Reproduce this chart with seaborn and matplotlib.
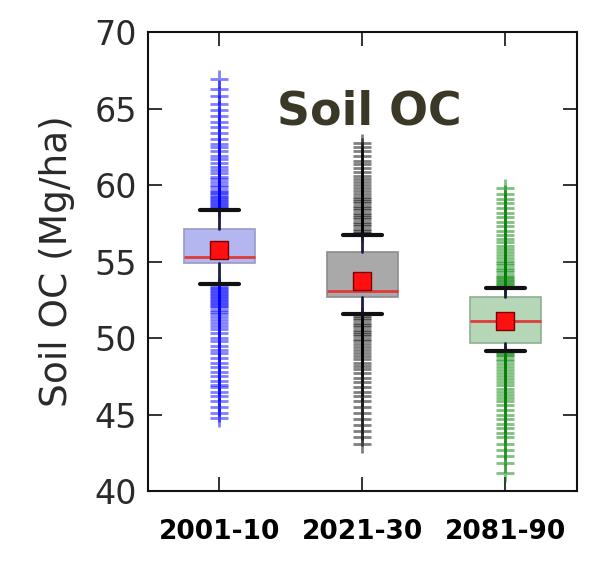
import numpy as np
import pandas as pd
import seaborn as sns
import matplotlib
matplotlib.use("Agg")
import matplotlib.pyplot as plt

# Summary statistics of soil organic carbon per period (Mg/ha)
periods = ["2001-10", "2021-30", "2081-90"]
q1 = [54.88, 52.66, 49.69]
median = [55.31, 53.09, 51.13]
q3 = [57.12, 55.64, 52.70]
whisker_low = [53.51, 51.57, 49.17]
whisker_high = [58.37, 56.73, 53.25]
mean = [55.75, 53.73, 51.12]

# Outlying values beyond the whiskers
fliers_2001 = [58.45, 58.55, 58.65, 58.75, 58.85, 58.95, 59.05, 59.15, 59.25, 59.35,
               59.45, 59.55, 59.7, 59.85, 60.0, 60.2, 60.4, 60.55, 60.8, 61.0, 61.2,
               61.45, 61.7, 61.9, 62.2, 62.5, 62.7, 63.0, 63.4, 63.8, 64.1, 64.5,
               64.9, 65.3, 65.8, 66.3, 66.9,
               53.4, 53.3, 53.2, 53.1, 53.0, 52.9, 52.8, 52.7, 52.6, 52.5, 52.4,
               52.3, 52.2, 52.1, 52.0, 51.85, 51.7, 51.55, 51.4, 51.2, 51.0, 50.8,
               50.6, 50.3, 50.0, 49.8, 49.5, 49.2, 49.0, 48.7, 48.4, 48.1, 47.8,
               47.5, 47.2, 46.9, 46.8, 46.5, 46.2, 45.9, 45.5, 45.1, 44.8]
fliers_2021 = [56.85, 57.0, 57.15, 57.3, 57.45, 57.6, 57.75, 57.9, 58.05, 58.2, 58.35,
               58.5, 58.65, 58.8, 58.95, 59.1, 59.25, 59.4, 59.6, 59.8, 60.0, 60.2,
               60.4, 60.6, 60.85, 61.1, 61.35, 61.6, 61.9, 62.2, 62.5, 62.75,
               51.45, 51.3, 51.15, 51.0, 50.85, 50.7, 50.55, 50.4, 50.25, 50.1,
               49.95, 49.8, 49.6, 49.4, 49.2, 49.0, 48.8, 48.6, 48.4, 48.2, 48.0,
               47.7, 47.4, 47.1, 46.8, 46.5, 46.2, 45.9, 45.5, 45.1, 44.7, 44.3,
               43.9, 43.5, 43.1]
fliers_2081 = [53.3, 53.4, 53.5, 53.6, 53.7, 53.8, 53.9, 54.0, 54.15, 54.3, 54.45,
               54.6, 54.75, 54.9, 55.05, 55.2, 55.4, 55.6, 55.8, 56.0, 56.25, 56.5,
               56.75, 57.0, 57.3, 57.6, 57.9, 58.2, 58.5, 58.8, 59.1, 59.4, 59.8,
               49.1, 49.0, 48.9, 48.8, 48.65, 48.5, 48.3, 48.1, 47.9, 47.7, 47.5,
               47.3, 47.1, 46.9, 46.7, 46.5, 46.3, 46.1, 45.9, 45.6, 45.3, 45.0,
               44.7, 44.4, 44.1, 43.8, 43.5, 43.1, 42.7, 42.3, 41.8, 41.2]

flier_colors = ["#0000ff", "#000000", "#008000"]
box_faces = ["#b4b6f0", "#a9a9a9", "#b6d6b8"]
box_edges = ["#9a9ac8", "#8c8c8c", "#8fae92"]

sns.set_style("ticks")

fig = plt.figure(figsize=(5.96, 5.62), dpi=100)
ax = fig.add_axes([0.248, 0.1263, 0.72, 0.8167])

flier_df = pd.DataFrame({
    "period": [periods[0]] * len(fliers_2001) + [periods[1]] * len(fliers_2021)
              + [periods[2]] * len(fliers_2081),
    "value": fliers_2001 + fliers_2021 + fliers_2081,
})
sns.stripplot(data=flier_df, x="period", y="value", hue="period", order=periods,
              hue_order=periods, palette=flier_colors, jitter=False, marker="+",
              size=13, linewidth=2.0, alpha=0.5, legend=False, ax=ax, zorder=2)

stats = [
    dict(q1=q1[i], med=median[i], q3=q3[i], whislo=whisker_low[i],
         whishi=whisker_high[i], mean=mean[i], fliers=[], label=periods[i])
    for i in range(len(periods))
]
bp = ax.bxp(stats, positions=range(len(periods)), widths=0.5, capwidths=0.27,
            showmeans=True, showfliers=False, patch_artist=True, manage_ticks=False,
            medianprops=dict(color="#e03a3a", linewidth=2),
            meanprops=dict(marker="s", markerfacecolor="#ff1010",
                           markeredgecolor="#7a0000", markersize=13),
            whiskerprops=dict(color="#1c1c44", linewidth=2),
            capprops=dict(color="#111111", linewidth=3))
for patch, face, edge in zip(bp["boxes"], box_faces, box_edges):
    patch.set_facecolor(face)
    patch.set_edgecolor(edge)
    patch.set_linewidth(1.2)
    patch.set_zorder(3)
for key in ("medians", "means", "whiskers", "caps"):
    for artist in bp[key]:
        artist.set_zorder(4)

ax.set_xlim(-0.5, 2.5)
ax.set_ylim(40, 70)
ax.set_yticks(np.arange(40, 71, 5))
ax.set_xticks(range(len(periods)))
ax.set_xticklabels(periods, fontsize=19, fontweight="bold", color="#000000")
ax.set_xlabel("")
ax.set_ylabel("Soil OC (Mg/ha)", fontsize=27, color="#2a2a2a", labelpad=14)
for lbl in ax.get_yticklabels():
    lbl.set_fontsize(24)
    lbl.set_color("#2a2a2a")

ax.tick_params(axis="both", direction="in", length=10, width=1.2,
               top=True, right=True, color="#111111")
ax.tick_params(axis="x", pad=20)
ax.tick_params(axis="y", pad=8)
for spine in ax.spines.values():
    spine.set_visible(True)
    spine.set_color("#111111")
    spine.set_linewidth(1.5)

ax.text(1.05, 64.8, "Soil OC", ha="center", va="center", fontsize=33,
        fontweight="bold", color="#3b3828", zorder=5)

fig.savefig("out.png", dpi=100)
